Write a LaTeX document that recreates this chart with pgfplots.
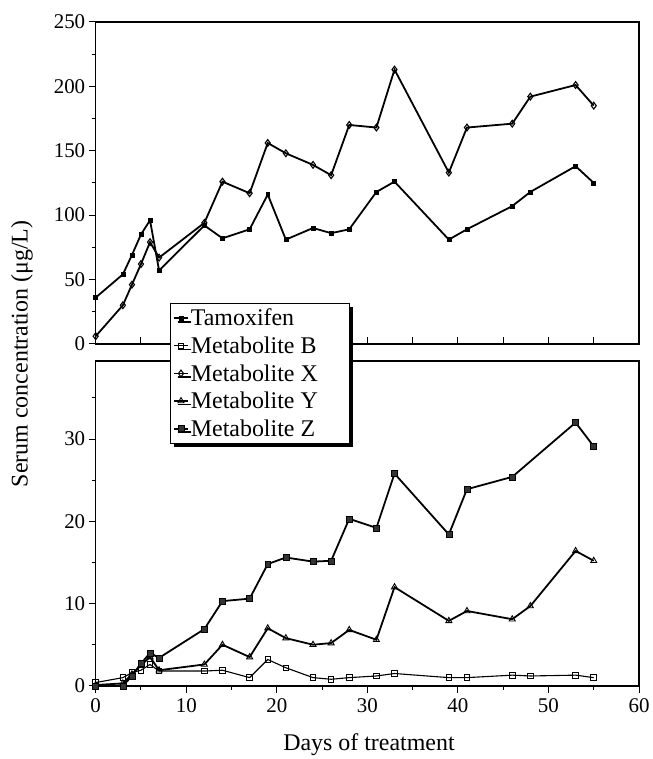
\documentclass[border=0pt]{standalone}
\usepackage{fontspec}
\setmainfont{Liberation Serif}
\usepackage{pgfplots}
\pgfplotsset{compat=1.18}
\usetikzlibrary{shadows}
\pgfplotsset{
  tam/.style={black, line width=1.8pt, mark=square*, mark size=2pt, mark options={solid, fill=black, line width=0.5pt}},
  metb/.style={black, line width=1.1pt, mark=square, mark size=2.8pt, mark options={solid, fill=white, line width=0.9pt}},
  metx/.style={black, line width=1.8pt, mark=diamond, mark size=3.4pt, mark options={solid, fill=white, line width=1.1pt}},
  mety/.style={black, line width=1.8pt, mark=triangle, mark size=3.5pt, mark options={solid, fill=white, line width=0.9pt}},
  metz/.style={black, line width=1.8pt, mark=square*, mark size=3pt, mark options={solid, fill=black!80, line width=0.5pt}},
}
\begin{document}
\begin{tikzpicture}
\path (0pt,0pt) rectangle (647pt,759pt);
\pgfplotsset{
  every axis/.append style={
    scale only axis, width=545pt, xmin=0, xmax=60,
    axis line style={line width=1.5pt},
    tick style={line width=1pt, black},
    /pgf/number format/assume math mode=true,
    tick label style={font=\fontsize{21}{21}\selectfont},
    xtick pos=left, ytick pos=left,
    major tick length=7pt, minor tick length=4pt,
    clip=false,
    legend image code/.code={\draw[mark repeat=2,mark phase=2] plot coordinates {(0pt,0pt)(7pt,0pt)(14pt,0pt)};},
  },
}
\begin{axis}[at={(96pt,414pt)}, anchor=south west, height=323pt,
  ymin=0, ymax=250, ytick={0,50,...,250}, minor ytick={25,75,...,225},
  xtick={0,5,...,55}, xticklabels={}, xtick align=inside, ytick align=outside]
\addplot[tam] coordinates {(0,36)(3,54)(4,69)(5,85)(6,96)(7,57)(12,92)(14,82)(17,89)(19,116)(21,81)(24,90)(26,86)(28,89)(31,118)(33,126)(39,81)(41,89)(46,107)(48,118)(53,138)(55,125)};
\addplot[metx] coordinates {(0,6)(3,30)(4,46)(5,62)(6,79)(7,67)(12,94)(14,126)(17,117)(19,156)(21,148)(24,139)(26,131)(28,170)(31,168)(33,213)(39,133)(41,168)(46,171)(48,192)(53,201)(55,185)};
\end{axis}
\begin{axis}[at={(96pt,71pt)}, anchor=south west, height=326pt,
  ymin=0, ymax=39.5, ytick={0,10,20,30}, minor ytick={5,15,25,35},
  xtick={0,10,...,60}, minor xtick={5,15,...,55}, tick align=outside,
  xticklabel style={yshift=-2pt},
  xlabel={Days of treatment},
  xlabel style={font=\fontsize{24}{24}\selectfont, at={(axis description cs:0.503,0)}, anchor=center, yshift=-59pt},
  legend style={at={(0.136,1.178)}, anchor=north west, draw=black, line width=1.1pt, fill=white,
    font=\fontsize{24}{24}\selectfont, row sep=5.5pt, inner xsep=3pt, inner ysep=3.5pt,
    drop shadow={shadow xshift=3.5pt, shadow yshift=-3.5pt, opacity=1, fill=black},
    legend cell align=left},
  legend cell align=left]
\addlegendimage{tam}
\addlegendentry{Tamoxifen}
\addplot[metb] coordinates {(0,0.4)(3,1.0)(4,1.6)(5,1.9)(6,2.6)(7,1.8)(12,1.8)(14,1.9)(17,1.0)(19,3.2)(21,2.2)(24,1.0)(26,0.8)(28,1.0)(31,1.2)(33,1.5)(39,1.0)(41,1.0)(46,1.3)(48,1.2)(53,1.3)(55,1.0)};
\addlegendentry{Metabolite B}
\addlegendimage{metx}
\addlegendentry{Metabolite X\hspace*{27pt}}
\addplot[mety] coordinates {(0,0.1)(3,0.3)(4,1.4)(5,2.5)(6,3.5)(7,1.9)(12,2.6)(14,5.0)(17,3.5)(19,7.0)(21,5.8)(24,5.0)(26,5.2)(28,6.8)(31,5.6)(33,12.0)(39,7.9)(41,9.1)(46,8.1)(48,9.7)(53,16.4)(55,15.2)};
\addlegendentry{Metabolite Y}
\addplot[metz] coordinates {(0,0)(3,0)(4,1.2)(5,2.7)(6,4.0)(7,3.4)(12,6.9)(14,10.3)(17,10.6)(19,14.8)(21,15.6)(24,15.1)(26,15.2)(28,20.3)(31,19.2)(33,25.8)(39,18.4)(41,23.9)(46,25.4)(53,32.0)(55,29.1)};
\addlegendentry{Metabolite Z}
\end{axis}
\node[rotate=90, font=\fontsize{24}{24}\selectfont] at (22pt,404pt) {Serum concentration (μg/L)};
\end{tikzpicture}
\end{document}
